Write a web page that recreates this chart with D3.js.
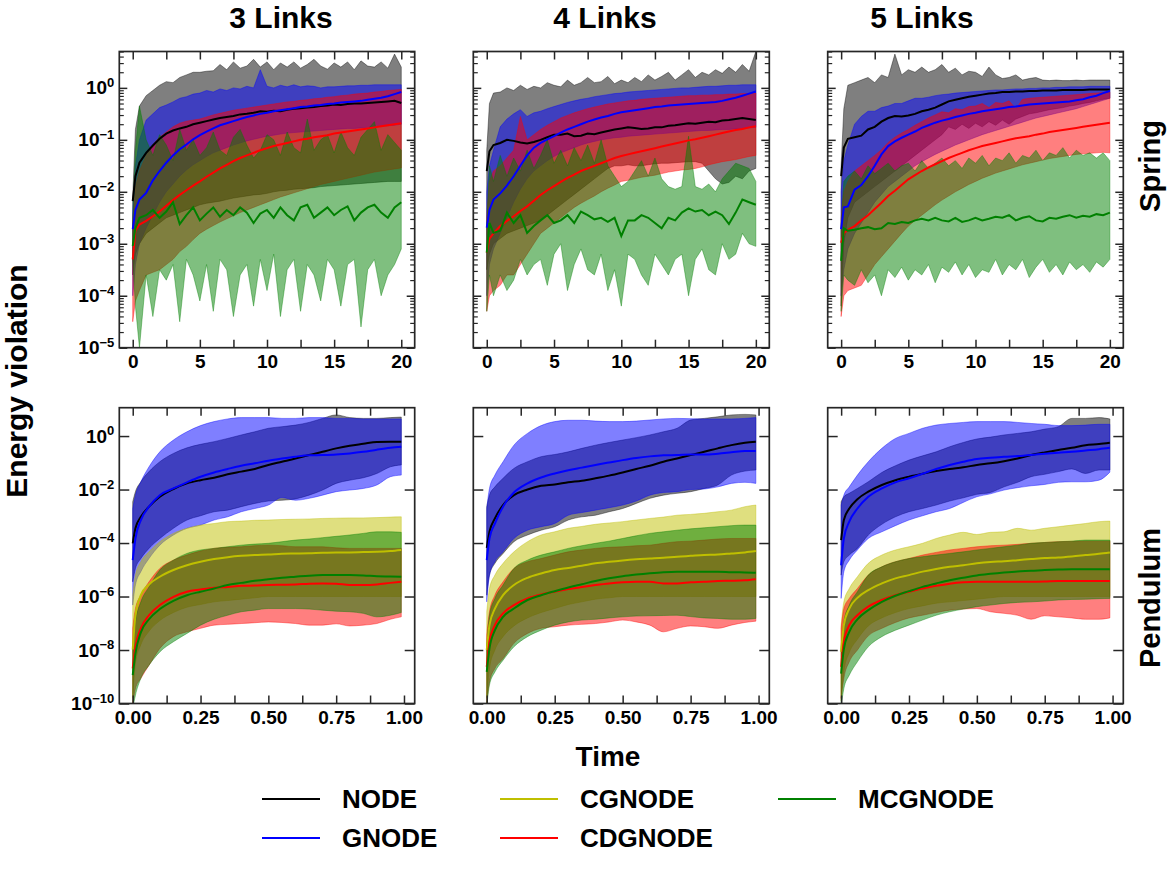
<!DOCTYPE html>
<html><head><meta charset="utf-8">
<script src="https://cdn.jsdelivr.net/npm/d3@7"></script>
<style>
body{margin:0;background:#fff}
text{font-family:"Liberation Sans",Arial,sans-serif;font-weight:bold;fill:#000}
</style>
</head><body>
<svg id="chart" width="1172" height="873"></svg>
<script>
// ---------------- DATA (values are log10 of energy violation) ----------------
const springTime = [0,0.2,0.5,1,1.5,2,2.5,3,3.5,4,4.5,5,5.5,6,6.5,7,7.5,8,8.5,9,9.5,10,10.5,11,11.5,12,12.5,13,13.5,14,14.5,15,15.5,16,16.5,17,17.5,18,18.5,19,19.5,20];
const pendTime = [0,0.01,0.03,0.06,0.1,0.15,0.2,0.25,0.3,0.35,0.4,0.45,0.5,0.55,0.6,0.65,0.7,0.75,0.8,0.85,0.9,0.95,0.99];
const methods = ["NODE","GNODE","CGNODE","CDGNODE","MCGNODE"];
const columnTitles = ["3 Links","4 Links","5 Links"];
const rowTitles = ["Spring","Pendulum"];
const springXTicks = [0,2.5,5,7.5,10,12.5,15,17.5,20];
const springXLabels = [0,5,10,15,20];
const pendXTicks = [0,0.125,0.25,0.375,0.5,0.625,0.75,0.875,1];
const pendXLabels = [0,0.25,0.5,0.75,1];
const springYExp = [-5,-4,-3,-2,-1,0];
const pendYExp = [-10,-8,-6,-4,-2,0];

// Spring, 3 links
const s3_NODE_mean = [-2.18,-1.7,-1.44,-1.25,-1.11,-0.98,-0.88,-0.82,-0.78,-0.75,-0.7,-0.67,-0.64,-0.61,-0.58,-0.56,-0.54,-0.51,-0.5,-0.48,-0.45,-0.46,-0.44,-0.45,-0.42,-0.4,-0.39,-0.38,-0.37,-0.35,-0.34,-0.32,-0.33,-0.31,-0.3,-0.3,-0.29,-0.28,-0.27,-0.26,-0.25,-0.29];
const s3_NODE_hi = [-2.1,-0.8,-0.35,-0.15,-0.05,0.05,0.12,0.1,0.2,0.25,0.3,0.3,0.32,0.33,0.45,0.35,0.5,0.38,0.42,0.55,0.4,0.5,0.35,0.48,0.4,0.5,0.38,0.45,0.55,0.42,0.36,0.48,0.4,0.5,0.35,0.52,0.42,0.4,0.5,0.38,0.65,0.4];
const s3_NODE_lo = [-3.6,-3.2,-3.0,-2.8,-2.7,-2.6,-2.5,-2.45,-2.4,-2.35,-2.3,-2.25,-2.22,-2.2,-2.18,-2.15,-2.12,-2.1,-2.08,-2.06,-2.05,-2.03,-2.0,-1.98,-1.97,-1.95,-1.94,-1.93,-1.92,-1.9,-1.89,-1.88,-1.87,-1.86,-1.85,-1.84,-1.83,-1.82,-1.81,-1.8,-1.8,-1.8];
const s3_GNODE_mean = [-2.72,-2.35,-2.15,-2.02,-1.78,-1.6,-1.44,-1.3,-1.18,-1.09,-0.99,-0.91,-0.84,-0.78,-0.72,-0.68,-0.64,-0.6,-0.56,-0.53,-0.5,-0.48,-0.45,-0.43,-0.41,-0.39,-0.37,-0.36,-0.34,-0.33,-0.31,-0.3,-0.28,-0.27,-0.26,-0.25,-0.23,-0.21,-0.19,-0.16,-0.12,-0.08];
const s3_GNODE_hi = [-2.4,-1.5,-1.0,-0.62,-0.5,-0.38,-0.33,-0.27,-0.2,-0.17,-0.12,-0.1,-0.05,-0.08,-0.02,-0.05,0.0,-0.02,0.03,0.0,0.35,0.03,0.0,0.05,0.02,0.06,0.02,0.04,0.03,0.0,0.02,0.02,0.03,0.04,0.04,0.05,0.05,0.06,0.06,0.06,0.06,0.06];
const s3_GNODE_lo = [-4.0,-3.4,-3.0,-2.7,-2.45,-2.2,-2.0,-1.85,-1.7,-1.58,-1.48,-1.4,-1.32,-1.25,-1.2,-1.15,-1.1,-1.06,-1.02,-0.99,-0.96,-0.93,-0.91,-0.89,-0.87,-0.86,-0.85,-0.84,-0.83,-0.82,-0.81,-0.8,-0.79,-0.78,-0.78,-0.77,-0.76,-0.75,-0.74,-0.73,-0.72,-0.7];
const s3_CDGNODE_mean = [-3.3,-2.75,-2.63,-2.56,-2.47,-2.38,-2.27,-2.16,-2.06,-1.97,-1.88,-1.8,-1.71,-1.63,-1.55,-1.48,-1.41,-1.35,-1.3,-1.25,-1.2,-1.16,-1.12,-1.09,-1.06,-1.03,-1.0,-0.98,-0.95,-0.93,-0.91,-0.88,-0.86,-0.84,-0.82,-0.8,-0.78,-0.76,-0.74,-0.72,-0.7,-0.68];
const s3_CDGNODE_hi = [-2.6,-1.9,-1.6,-1.3,-1.1,-0.95,-0.85,-0.75,-0.68,-0.64,-0.62,-0.6,-0.56,-0.52,-0.49,-0.46,-0.43,-0.41,-0.39,-0.37,-0.35,-0.33,-0.31,-0.29,-0.27,-0.26,-0.24,-0.23,-0.21,-0.2,-0.18,-0.17,-0.15,-0.14,-0.12,-0.11,-0.1,-0.08,-0.07,-0.05,-0.04,-0.03];
const s3_CDGNODE_lo = [-4.5,-4.1,-3.9,-3.6,-3.55,-3.5,-3.4,-3.3,-3.15,-3.05,-2.92,-2.8,-2.72,-2.65,-2.58,-2.52,-2.46,-2.4,-2.35,-2.3,-2.25,-2.2,-2.15,-2.1,-2.06,-2.02,-1.98,-1.94,-1.9,-1.86,-1.83,-1.8,-1.77,-1.74,-1.71,-1.68,-1.65,-1.62,-1.6,-1.58,-1.56,-1.54];
const s3_MCGNODE_mean = [-3.04,-2.7,-2.5,-2.45,-2.35,-2.5,-2.38,-2.2,-2.62,-2.45,-2.3,-2.55,-2.42,-2.3,-2.48,-2.35,-2.45,-2.3,-2.4,-2.6,-2.42,-2.35,-2.5,-2.3,-2.45,-2.55,-2.3,-2.25,-2.5,-2.4,-2.3,-2.45,-2.35,-2.28,-2.55,-2.4,-2.3,-2.25,-2.4,-2.5,-2.3,-2.2];
const s3_MCGNODE_hi = [-2.5,-1.2,-0.35,-1.0,-1.3,-0.9,-1.1,-1.4,-0.8,-1.2,-1.0,-1.3,-1.15,-0.85,-1.2,-1.3,-0.95,-0.8,-1.1,-1.35,-1.2,-0.9,-1.0,-1.3,-0.85,-1.15,-1.25,-0.6,-1.2,-1.0,-0.9,-1.25,-0.85,-1.15,-1.3,-0.95,-0.8,-0.65,-1.2,-0.9,-1.05,-1.2];
const s3_MCGNODE_lo = [-3.3,-4.2,-5.0,-3.6,-4.4,-3.5,-3.7,-3.4,-4.5,-3.3,-3.6,-4.1,-3.4,-4.3,-3.3,-3.5,-4.4,-3.6,-3.4,-4.2,-3.3,-3.9,-3.2,-4.4,-3.5,-3.3,-4.3,-3.4,-3.6,-4.1,-3.3,-3.5,-4.2,-3.4,-3.3,-4.6,-3.5,-3.3,-4.0,-3.6,-3.4,-3.1];

// Spring, 4 links
const s4_NODE_mean = [-1.6,-1.22,-1.1,-1.06,-1.0,-1.02,-1.05,-1.07,-1.04,-1.0,-0.95,-0.9,-0.9,-0.88,-0.93,-0.92,-0.88,-0.89,-0.86,-0.83,-0.8,-0.78,-0.76,-0.77,-0.79,-0.78,-0.76,-0.76,-0.73,-0.72,-0.7,-0.68,-0.69,-0.67,-0.65,-0.66,-0.63,-0.62,-0.6,-0.58,-0.6,-0.62];
const s4_NODE_hi = [-1.2,-0.3,-0.1,-0.08,0.0,-0.05,0.05,-0.03,0.03,0.0,0.1,0.05,0.02,0.15,0.05,0.1,0.2,0.1,0.12,0.22,0.08,0.15,0.1,0.2,0.12,0.25,0.15,0.22,0.3,0.15,0.25,0.35,0.2,0.3,0.25,0.35,0.28,0.4,0.3,0.45,0.32,0.7];
const s4_NODE_lo = [-3.5,-3.2,-3.0,-2.9,-2.8,-2.75,-2.7,-2.65,-2.6,-2.55,-2.45,-2.35,-2.25,-2.15,-2.05,-1.95,-1.85,-1.75,-1.65,-1.55,-1.5,-1.5,-1.48,-1.5,-1.5,-1.48,-1.46,-1.45,-1.45,-1.44,-1.43,-1.42,-1.42,-1.45,-1.6,-1.75,-1.85,-1.82,-1.7,-1.75,-1.6,-1.55];
const s4_GNODE_mean = [-2.69,-2.35,-2.15,-2.03,-1.88,-1.7,-1.5,-1.3,-1.15,-1.06,-0.99,-0.93,-0.86,-0.8,-0.75,-0.7,-0.65,-0.61,-0.57,-0.54,-0.5,-0.47,-0.45,-0.43,-0.41,-0.39,-0.37,-0.36,-0.34,-0.33,-0.32,-0.31,-0.3,-0.29,-0.28,-0.27,-0.25,-0.22,-0.19,-0.15,-0.11,-0.07];
const s4_GNODE_hi = [-2.0,-1.5,-1.2,-0.75,-0.6,-0.5,-0.42,-0.55,-0.48,-0.45,-0.4,-0.36,-0.32,-0.28,-0.25,-0.22,-0.2,-0.17,-0.15,-0.13,-0.11,-0.1,-0.08,-0.07,-0.06,-0.05,-0.04,-0.03,-0.02,-0.01,0.0,0.0,0.01,0.02,0.03,0.03,0.04,0.05,0.05,0.06,0.06,0.06];
const s4_GNODE_lo = [-4.0,-3.4,-3.1,-2.8,-2.5,-2.2,-1.95,-1.75,-1.6,-1.5,-1.4,-1.32,-1.25,-1.2,-1.15,-1.1,-1.06,-1.03,-1.0,-0.98,-0.96,-0.95,-0.93,-0.92,-0.91,-0.9,-0.89,-0.88,-0.87,-0.86,-0.85,-0.84,-0.83,-0.82,-0.82,-0.81,-0.8,-0.8,-0.79,-0.78,-0.77,-0.76];
const s4_CDGNODE_mean = [-3.17,-2.9,-2.8,-2.66,-2.56,-2.47,-2.37,-2.28,-2.17,-2.06,-1.97,-1.89,-1.81,-1.73,-1.67,-1.6,-1.55,-1.5,-1.45,-1.4,-1.35,-1.31,-1.28,-1.25,-1.22,-1.19,-1.16,-1.13,-1.1,-1.07,-1.04,-1.01,-0.99,-0.96,-0.93,-0.9,-0.87,-0.84,-0.81,-0.79,-0.76,-0.74];
const s4_CDGNODE_hi = [-2.5,-1.8,-1.6,-1.5,-1.35,-1.2,-0.55,-1.0,-0.9,-0.8,-0.72,-0.65,-0.58,-0.53,-0.48,-0.44,-0.4,-0.37,-0.34,-0.31,-0.29,-0.27,-0.25,-0.24,-0.22,-0.21,-0.2,-0.19,-0.18,-0.17,-0.16,-0.15,-0.15,-0.14,-0.14,-0.13,-0.13,-0.12,-0.12,-0.11,-0.11,-0.1];
const s4_CDGNODE_lo = [-4.3,-4.0,-3.9,-3.8,-3.6,-3.6,-3.4,-3.2,-3.0,-2.8,-2.7,-2.6,-2.5,-2.4,-2.3,-2.22,-2.15,-2.08,-2.0,-1.93,-1.87,-1.8,-1.78,-1.75,-1.72,-1.7,-1.68,-1.65,-1.62,-1.6,-1.58,-1.57,-1.55,-1.52,-1.48,-1.45,-1.42,-1.4,-1.38,-1.35,-1.32,-1.3];
const s4_MCGNODE_mean = [-3.17,-2.6,-2.79,-2.75,-2.4,-2.6,-2.45,-2.79,-2.66,-2.55,-2.45,-2.6,-2.55,-2.45,-2.6,-2.38,-2.45,-2.53,-2.5,-2.58,-2.5,-2.85,-2.55,-2.55,-2.45,-2.5,-2.6,-2.7,-2.5,-2.55,-2.4,-2.32,-2.38,-2.35,-2.45,-2.38,-2.45,-2.62,-2.4,-2.15,-2.2,-2.25];
const s4_MCGNODE_hi = [-2.6,-1.5,-1.8,-1.3,-1.7,-1.35,-1.6,-1.2,-1.55,-1.3,-1.0,-1.45,-1.2,-1.5,-1.15,-1.4,-1.1,-1.45,-1.0,-1.5,-1.7,-1.9,-1.8,-1.6,-1.4,-1.7,-1.35,-1.75,-1.9,-1.95,-1.9,-0.93,-1.9,-1.95,-1.85,-2.0,-1.75,-1.6,-1.45,-1.5,-1.55,-1.8];
const s4_MCGNODE_lo = [-4.3,-3.6,-4.0,-3.6,-3.9,-3.7,-3.3,-3.6,-3.4,-3.3,-3.8,-3.2,-3.0,-3.9,-3.4,-3.1,-3.5,-3.6,-3.2,-3.9,-3.5,-4.2,-3.2,-3.3,-3.6,-3.8,-3.2,-3.4,-3.6,-3.3,-3.2,-4.0,-3.3,-3.1,-3.5,-3.6,-3.0,-3.3,-3.2,-2.8,-3.0,-3.05];

// Spring, 5 links
const s5_NODE_mean = [-1.7,-1.15,-0.98,-0.95,-0.92,-0.8,-0.75,-0.65,-0.58,-0.54,-0.55,-0.53,-0.5,-0.45,-0.42,-0.38,-0.32,-0.26,-0.23,-0.2,-0.17,-0.15,-0.13,-0.11,-0.1,-0.08,-0.08,-0.07,-0.07,-0.06,-0.06,-0.05,-0.05,-0.05,-0.04,-0.04,-0.04,-0.04,-0.03,-0.03,-0.03,-0.03];
const s5_NODE_hi = [-1.5,-0.4,0.05,0.1,0.15,0.2,0.1,0.25,0.2,0.65,0.25,0.35,0.3,0.4,0.3,0.35,0.45,0.3,0.38,0.25,0.32,0.3,0.22,0.4,0.25,0.18,0.2,0.25,0.15,0.18,0.2,0.15,0.14,0.15,0.14,0.14,0.15,0.14,0.15,0.15,0.15,0.15];
const s5_NODE_lo = [-4.2,-3.0,-2.5,-2.2,-2.1,-2.0,-1.9,-1.8,-1.7,-1.6,-1.5,-1.4,-1.3,-1.2,-1.1,-1.0,-0.9,-0.75,-0.8,-0.7,-0.78,-0.68,-0.75,-0.65,-0.72,-0.62,-0.7,-0.6,-0.55,-0.5,-0.48,-0.45,-0.42,-0.4,-0.38,-0.35,-0.33,-0.3,-0.28,-0.25,-0.22,-0.2];
const s5_GNODE_mean = [-2.72,-2.3,-2.28,-1.96,-1.87,-1.7,-1.5,-1.28,-1.12,-1.03,-0.96,-0.9,-0.84,-0.77,-0.72,-0.67,-0.63,-0.6,-0.56,-0.53,-0.5,-0.48,-0.45,-0.43,-0.41,-0.39,-0.37,-0.36,-0.34,-0.32,-0.31,-0.3,-0.29,-0.28,-0.27,-0.26,-0.24,-0.22,-0.18,-0.15,-0.1,-0.06];
const s5_GNODE_hi = [-2.0,-1.4,-1.1,-0.7,-0.55,-0.45,-0.45,-0.38,-0.35,-0.3,-0.3,-0.25,-0.2,-0.2,-0.18,-0.15,-0.13,-0.12,-0.1,-0.09,-0.08,-0.07,-0.06,-0.05,-0.04,-0.04,-0.03,-0.02,-0.02,-0.01,-0.01,0.0,0.0,0.01,0.01,0.02,0.02,0.02,0.03,0.03,0.03,0.03];
const s5_GNODE_lo = [-4.0,-3.5,-3.1,-2.8,-2.6,-2.4,-2.2,-2.05,-1.9,-1.8,-1.7,-1.6,-1.5,-1.42,-1.35,-1.28,-1.22,-1.16,-1.1,-1.05,-1.0,-0.95,-0.9,-0.86,-0.82,-0.78,-0.74,-0.7,-0.66,-0.62,-0.58,-0.55,-0.52,-0.49,-0.46,-0.43,-0.4,-0.36,-0.32,-0.28,-0.24,-0.2];
const s5_CDGNODE_mean = [-2.98,-2.8,-2.73,-2.66,-2.55,-2.45,-2.33,-2.21,-2.08,-1.98,-1.87,-1.76,-1.68,-1.6,-1.53,-1.47,-1.41,-1.35,-1.3,-1.25,-1.2,-1.16,-1.12,-1.09,-1.06,-1.03,-1.0,-0.97,-0.95,-0.93,-0.9,-0.88,-0.85,-0.83,-0.81,-0.79,-0.77,-0.75,-0.73,-0.71,-0.69,-0.67];
const s5_CDGNODE_hi = [-2.5,-2.0,-1.8,-1.6,-1.5,-1.4,-1.3,-1.19,-1.05,-0.95,-0.87,-0.8,-0.72,-0.65,-0.58,-0.52,-0.46,-0.48,-0.4,-0.42,-0.36,-0.35,-0.3,-0.38,-0.28,-0.3,-0.25,-0.4,-0.22,-0.2,-0.19,-0.18,-0.17,-0.16,-0.15,-0.14,-0.13,-0.12,-0.11,-0.1,-0.09,-0.08];
const s5_CDGNODE_lo = [-4.4,-4.0,-3.9,-3.85,-3.8,-3.6,-3.4,-3.25,-3.1,-2.95,-2.8,-2.66,-2.55,-2.45,-2.35,-2.25,-2.16,-2.08,-2.0,-1.93,-1.86,-1.8,-1.74,-1.69,-1.64,-1.6,-1.56,-1.52,-1.48,-1.45,-1.42,-1.39,-1.36,-1.34,-1.32,-1.3,-1.28,-1.27,-1.26,-1.25,-1.24,-1.25];
const s5_MCGNODE_mean = [-3.33,-2.7,-2.75,-2.73,-2.7,-2.68,-2.72,-2.7,-2.6,-2.62,-2.58,-2.6,-2.55,-2.52,-2.55,-2.5,-2.55,-2.57,-2.5,-2.58,-2.55,-2.5,-2.55,-2.52,-2.48,-2.5,-2.45,-2.55,-2.5,-2.47,-2.55,-2.57,-2.5,-2.52,-2.48,-2.45,-2.5,-2.46,-2.48,-2.43,-2.45,-2.4];
const s5_MCGNODE_hi = [-2.6,-1.8,-1.7,-1.6,-1.75,-1.5,-1.65,-1.55,-1.45,-1.6,-1.5,-1.45,-1.6,-1.4,-1.55,-1.45,-1.35,-1.5,-1.4,-1.55,-1.35,-1.45,-1.3,-1.5,-1.35,-1.4,-1.25,-1.45,-1.3,-1.35,-1.2,-1.4,-1.25,-1.3,-1.15,-1.35,-1.2,-1.3,-1.25,-1.35,-1.25,-1.4];
const s5_MCGNODE_lo = [-4.3,-3.6,-3.7,-3.8,-3.5,-3.75,-3.6,-4.0,-3.5,-3.65,-3.45,-3.7,-3.5,-3.6,-3.4,-3.75,-3.45,-3.55,-3.35,-3.6,-3.4,-3.65,-3.5,-3.55,-3.3,-3.6,-3.4,-3.5,-3.3,-3.65,-3.45,-3.3,-3.55,-3.4,-3.6,-3.35,-3.5,-3.4,-3.55,-3.35,-3.45,-3.3];

// Pendulum, 3 links
const p3_NODE_mean = [-4.01,-3.45,-3.02,-2.64,-2.27,-1.98,-1.77,-1.65,-1.56,-1.43,-1.33,-1.23,-1.08,-0.96,-0.84,-0.71,-0.59,-0.46,-0.36,-0.29,-0.22,-0.21,-0.21];
const p3_NODE_hi = [-2.46,-2.08,-1.71,-1.33,-0.96,-0.65,-0.44,-0.31,-0.21,-0.09,0.04,0.16,0.29,0.35,0.41,0.51,0.66,0.79,0.69,0.66,0.66,0.69,0.71];
const p3_NODE_lo = [-5.45,-4.95,-4.58,-4.2,-3.83,-3.45,-3.14,-2.98,-2.83,-2.77,-2.64,-2.52,-2.43,-2.4,-2.35,-2.21,-2.02,-1.77,-1.65,-1.56,-1.4,-1.15,-1.08];
const p3_GNODE_mean = [-4.64,-3.83,-3.14,-2.64,-2.21,-1.96,-1.73,-1.52,-1.36,-1.23,-1.11,-1.02,-0.92,-0.84,-0.77,-0.72,-0.71,-0.69,-0.65,-0.59,-0.51,-0.44,-0.4];
const p3_GNODE_hi = [-2.71,-2.21,-1.71,-1.15,-0.59,-0.15,0.16,0.39,0.54,0.64,0.69,0.69,0.69,0.66,0.66,0.69,0.69,0.66,0.66,0.64,0.64,0.64,0.64];
const p3_GNODE_lo = [-6.32,-5.57,-5.07,-4.58,-4.08,-3.7,-3.45,-3.33,-3.14,-3.02,-2.83,-2.71,-2.58,-2.3,-2.4,-2.33,-2.21,-2.08,-2.02,-1.96,-1.83,-1.52,-1.46];
const p3_CGNODE_mean = [-7.98,-6.7,-5.95,-5.55,-5.26,-5.01,-4.83,-4.7,-4.6,-4.53,-4.48,-4.45,-4.43,-4.4,-4.39,-4.38,-4.36,-4.35,-4.35,-4.34,-4.33,-4.3,-4.26];
const p3_CGNODE_hi = [-5.95,-5.2,-4.7,-4.33,-3.95,-3.64,-3.45,-3.33,-3.27,-3.2,-3.18,-3.15,-3.14,-3.12,-3.11,-3.1,-3.08,-3.07,-3.06,-3.06,-3.05,-3.03,-3.02];
const p3_CGNODE_lo = [-9.8,-8.5,-7.8,-7.3,-6.9,-6.6,-6.4,-6.3,-6.2,-6.15,-6.1,-6.05,-6.0,-6.0,-6.0,-6.0,-6.0,-6.0,-6.0,-6.0,-6.0,-6.0,-6.0];
const p3_CDGNODE_mean = [-8.69,-7.88,-7.19,-6.7,-6.32,-6.01,-5.82,-5.74,-5.67,-5.64,-5.6,-5.59,-5.57,-5.56,-5.55,-5.52,-5.51,-5.52,-5.57,-5.57,-5.55,-5.49,-5.45];
const p3_CDGNODE_hi = [-7.19,-6.45,-5.95,-5.45,-4.95,-4.64,-4.45,-4.3,-4.2,-4.16,-4.14,-4.1,-4.08,-4.1,-4.14,-4.14,-4.14,-4.18,-4.2,-4.2,-4.2,-4.2,-4.2];
const p3_CDGNODE_lo = [-10.06,-9.44,-9.06,-8.57,-7.94,-7.5,-7.32,-7.19,-7.07,-7.04,-7.01,-6.98,-6.95,-6.97,-7.01,-7.07,-7.07,-7.02,-7.1,-7.07,-7.01,-6.85,-6.76];
const p3_MCGNODE_mean = [-8.94,-8.13,-7.34,-6.85,-6.47,-6.16,-5.95,-5.82,-5.7,-5.57,-5.49,-5.41,-5.35,-5.3,-5.26,-5.22,-5.2,-5.2,-5.2,-5.21,-5.24,-5.25,-5.26];
const p3_MCGNODE_hi = [-7.94,-6.95,-6.2,-5.64,-5.01,-4.64,-4.39,-4.26,-4.2,-4.14,-4.08,-4.04,-4.01,-3.95,-3.89,-3.85,-3.8,-3.75,-3.7,-3.64,-3.58,-3.58,-3.6];
const p3_MCGNODE_lo = [-10.2,-9.69,-9.06,-8.57,-8.07,-7.69,-7.38,-7.07,-6.85,-6.7,-6.57,-6.51,-6.45,-6.45,-6.45,-6.47,-6.51,-6.55,-6.57,-6.63,-6.76,-6.7,-6.6];

// Pendulum, 4 links
const p4_NODE_mean = [-4.18,-3.58,-3.08,-2.58,-2.21,-2.0,-1.86,-1.81,-1.73,-1.67,-1.58,-1.48,-1.36,-1.23,-1.11,-0.96,-0.84,-0.71,-0.59,-0.46,-0.34,-0.25,-0.21];
const p4_NODE_hi = [-2.64,-2.21,-1.9,-1.58,-1.21,-0.96,-0.77,-0.69,-0.59,-0.46,-0.34,-0.24,-0.15,-0.06,0.04,0.16,0.29,0.6,0.66,0.72,0.79,0.81,0.79];
const p4_NODE_lo = [-5.95,-5.2,-4.76,-4.39,-3.95,-3.7,-3.52,-3.39,-3.14,-3.02,-2.96,-2.83,-2.71,-2.52,-2.33,-2.21,-2.14,-2.08,-1.96,-1.83,-1.46,-1.31,-1.27];
const p4_GNODE_mean = [-4.64,-3.83,-3.27,-2.64,-2.11,-1.77,-1.55,-1.4,-1.28,-1.18,-1.08,-0.99,-0.9,-0.82,-0.76,-0.72,-0.71,-0.69,-0.69,-0.66,-0.61,-0.56,-0.56];
const p4_GNODE_hi = [-2.71,-1.96,-1.46,-0.96,-0.34,0.1,0.39,0.54,0.59,0.59,0.56,0.54,0.54,0.56,0.6,0.64,0.66,0.65,0.64,0.64,0.64,0.66,0.69];
const p4_GNODE_lo = [-6.2,-5.2,-4.7,-4.33,-3.83,-3.52,-3.39,-3.27,-2.96,-2.86,-2.77,-2.68,-2.58,-2.43,-2.21,-2.11,-2.08,-2.0,-1.98,-1.9,-1.77,-1.73,-1.77];
const p4_CGNODE_mean = [-8.0,-7.07,-6.45,-5.95,-5.57,-5.3,-5.14,-5.01,-4.93,-4.85,-4.76,-4.7,-4.65,-4.61,-4.58,-4.55,-4.51,-4.48,-4.45,-4.43,-4.39,-4.35,-4.3];
const p4_CGNODE_hi = [-6.57,-5.7,-5.2,-4.76,-4.33,-3.95,-3.7,-3.58,-3.45,-3.38,-3.3,-3.25,-3.2,-3.14,-3.08,-3.03,-2.96,-2.93,-2.89,-2.83,-2.77,-2.64,-2.58];
const p4_CGNODE_lo = [-9.8,-8.7,-8.0,-7.5,-7.1,-6.8,-6.6,-6.45,-6.3,-6.2,-6.1,-6.05,-6.0,-6.0,-6.0,-6.0,-6.0,-6.0,-6.0,-6.0,-6.0,-6.0,-6.0];
const p4_CDGNODE_mean = [-8.63,-7.69,-7.07,-6.63,-6.32,-6.07,-5.92,-5.82,-5.72,-5.64,-5.57,-5.51,-5.47,-5.45,-5.45,-5.51,-5.51,-5.47,-5.45,-5.42,-5.41,-5.39,-5.35];
const p4_CDGNODE_hi = [-7.44,-6.57,-5.95,-5.45,-4.95,-4.7,-4.58,-4.45,-4.33,-4.26,-4.2,-4.16,-4.14,-4.1,-4.08,-4.01,-3.95,-3.93,-3.89,-3.85,-3.83,-3.83,-3.83];
const p4_CDGNODE_lo = [-10.0,-9.19,-8.69,-8.32,-7.75,-7.38,-7.19,-7.13,-7.07,-7.04,-7.01,-6.95,-6.88,-6.95,-7.07,-7.32,-7.19,-7.1,-7.13,-7.19,-7.07,-6.97,-6.92];
const p4_MCGNODE_mean = [-8.82,-7.94,-7.26,-6.76,-6.45,-6.13,-5.95,-5.8,-5.66,-5.54,-5.42,-5.32,-5.24,-5.18,-5.13,-5.09,-5.07,-5.07,-5.07,-5.07,-5.09,-5.1,-5.11];
const p4_MCGNODE_hi = [-7.82,-6.7,-6.07,-5.57,-4.95,-4.64,-4.45,-4.33,-4.2,-4.1,-4.01,-3.93,-3.83,-3.73,-3.64,-3.58,-3.52,-3.47,-3.43,-3.39,-3.35,-3.33,-3.33];
const p4_MCGNODE_lo = [-10.12,-9.31,-8.82,-8.38,-7.88,-7.5,-7.26,-7.07,-6.95,-6.88,-6.85,-6.8,-6.76,-6.73,-6.72,-6.71,-6.7,-6.75,-6.8,-6.82,-6.85,-6.85,-6.82];

// Pendulum, 5 links
const p5_NODE_mean = [-3.89,-3.14,-2.71,-2.36,-2.08,-1.83,-1.65,-1.52,-1.41,-1.31,-1.23,-1.17,-1.08,-1.02,-0.94,-0.84,-0.71,-0.61,-0.52,-0.44,-0.34,-0.3,-0.25];
const p5_NODE_hi = [-2.46,-2.27,-2.14,-1.96,-1.71,-1.36,-1.11,-0.9,-0.74,-0.59,-0.4,-0.24,-0.11,-0.04,0.04,0.1,0.16,0.26,0.35,0.66,0.66,0.69,0.64];
const p5_NODE_lo = [-5.2,-4.7,-4.45,-4.2,-3.7,-3.3,-3.02,-2.83,-2.71,-2.58,-2.43,-2.31,-2.18,-2.11,-1.9,-1.73,-1.52,-1.43,-1.33,-1.23,-1.4,-1.27,-1.27];
const p5_GNODE_mean = [-4.83,-3.83,-3.2,-2.71,-2.27,-1.96,-1.73,-1.58,-1.41,-1.23,-1.08,-0.96,-0.86,-0.81,-0.77,-0.75,-0.71,-0.66,-0.62,-0.59,-0.54,-0.49,-0.44];
const p5_GNODE_hi = [-2.58,-2.21,-1.9,-1.46,-0.96,-0.46,-0.09,0.1,0.29,0.41,0.47,0.51,0.54,0.54,0.54,0.51,0.47,0.44,0.39,0.39,0.41,0.44,0.44];
const p5_GNODE_lo = [-6.07,-5.07,-4.64,-4.26,-3.83,-3.58,-3.35,-3.14,-2.98,-2.83,-2.71,-2.48,-2.27,-2.16,-2.02,-1.93,-1.86,-1.81,-1.73,-1.71,-1.71,-1.65,-1.35];
const p5_CGNODE_mean = [-8.07,-7.07,-6.45,-6.05,-5.76,-5.51,-5.32,-5.2,-5.07,-4.97,-4.89,-4.83,-4.76,-4.71,-4.68,-4.64,-4.6,-4.56,-4.54,-4.5,-4.45,-4.4,-4.35];
const p5_CGNODE_hi = [-7.07,-6.2,-5.7,-5.26,-4.76,-4.45,-4.26,-4.14,-4.01,-3.83,-3.7,-3.6,-3.68,-3.6,-3.58,-3.45,-3.52,-3.45,-3.39,-3.33,-3.27,-3.2,-3.18];
const p5_CGNODE_lo = [-9.9,-8.8,-8.1,-7.6,-7.1,-6.8,-6.6,-6.45,-6.35,-6.25,-6.2,-6.15,-6.1,-6.05,-6.0,-6.0,-6.0,-6.0,-6.0,-6.0,-6.0,-6.0,-6.0];
const p5_CDGNODE_mean = [-8.63,-7.69,-7.07,-6.7,-6.38,-6.13,-5.95,-5.82,-5.7,-5.6,-5.52,-5.47,-5.45,-5.45,-5.45,-5.45,-5.45,-5.44,-5.42,-5.42,-5.42,-5.42,-5.42];
const p5_CDGNODE_hi = [-7.19,-6.45,-6.07,-5.7,-5.2,-4.89,-4.7,-4.58,-4.45,-4.35,-4.26,-4.2,-4.14,-4.1,-4.08,-4.05,-4.01,-3.98,-3.95,-3.94,-3.93,-3.93,-3.93];
const p5_CDGNODE_lo = [-9.81,-9.06,-8.44,-8.0,-7.47,-7.19,-6.97,-6.8,-6.7,-6.6,-6.51,-6.47,-6.45,-6.57,-6.63,-6.7,-6.85,-6.72,-6.76,-6.8,-6.85,-6.85,-6.8];
const p5_MCGNODE_mean = [-8.88,-7.97,-7.32,-6.85,-6.51,-6.2,-5.97,-5.8,-5.64,-5.51,-5.39,-5.3,-5.21,-5.15,-5.1,-5.06,-5.04,-5.01,-4.99,-4.98,-4.98,-4.98,-4.98];
const p5_MCGNODE_hi = [-7.94,-6.95,-6.32,-5.82,-5.2,-4.89,-4.7,-4.58,-4.51,-4.45,-4.39,-4.33,-4.26,-4.2,-4.14,-4.08,-4.01,-3.98,-3.95,-3.93,-3.89,-3.89,-3.89];
const p5_MCGNODE_lo = [-10.12,-9.44,-8.94,-8.44,-7.88,-7.5,-7.26,-7.07,-6.88,-6.7,-6.57,-6.47,-6.38,-6.32,-6.26,-6.22,-6.2,-6.17,-6.13,-6.11,-6.1,-6.08,-6.07];

// ---------------- STYLE / LAYOUT ----------------
const colors = {NODE:"#000000",GNODE:"#0000ff",CGNODE:"#bfbf00",CDGNODE:"#ff0000",MCGNODE:"#008000"};
const colX = [[119.3,414.7],[473.3,769.3],[827.7,1123.3]];
const rowCfg = [
  {top:51.5,bottom:347.7,xDomain:[-1,21],yDomain:[1e-5,Math.pow(10,0.7)],time:springTime,
   xTicks:springXTicks,xLabels:springXLabels,xFmt:d3.format("d"),yExp:springYExp,minor:true,yLen:8,curve:d3.curveLinear},
  {top:407.7,bottom:703.5,xDomain:[-0.0495,1.0395],yDomain:[1e-10,Math.pow(10,1.06)],time:pendTime,
   xTicks:pendXTicks,xLabels:pendXLabels,xFmt:d3.format(".2f"),yExp:pendYExp,minor:false,yLen:10,curve:d3.curveMonotoneX}
];
function S(mean,lo,hi){return {mean,lo,hi};}
const panels = [
  {row:0,col:0,series:{NODE:S(s3_NODE_mean,s3_NODE_lo,s3_NODE_hi),GNODE:S(s3_GNODE_mean,s3_GNODE_lo,s3_GNODE_hi),CDGNODE:S(s3_CDGNODE_mean,s3_CDGNODE_lo,s3_CDGNODE_hi),MCGNODE:S(s3_MCGNODE_mean,s3_MCGNODE_lo,s3_MCGNODE_hi)}},
  {row:0,col:1,series:{NODE:S(s4_NODE_mean,s4_NODE_lo,s4_NODE_hi),GNODE:S(s4_GNODE_mean,s4_GNODE_lo,s4_GNODE_hi),CDGNODE:S(s4_CDGNODE_mean,s4_CDGNODE_lo,s4_CDGNODE_hi),MCGNODE:S(s4_MCGNODE_mean,s4_MCGNODE_lo,s4_MCGNODE_hi)}},
  {row:0,col:2,series:{NODE:S(s5_NODE_mean,s5_NODE_lo,s5_NODE_hi),GNODE:S(s5_GNODE_mean,s5_GNODE_lo,s5_GNODE_hi),CDGNODE:S(s5_CDGNODE_mean,s5_CDGNODE_lo,s5_CDGNODE_hi),MCGNODE:S(s5_MCGNODE_mean,s5_MCGNODE_lo,s5_MCGNODE_hi)}},
  {row:1,col:0,series:{NODE:S(p3_NODE_mean,p3_NODE_lo,p3_NODE_hi),GNODE:S(p3_GNODE_mean,p3_GNODE_lo,p3_GNODE_hi),CGNODE:S(p3_CGNODE_mean,p3_CGNODE_lo,p3_CGNODE_hi),CDGNODE:S(p3_CDGNODE_mean,p3_CDGNODE_lo,p3_CDGNODE_hi),MCGNODE:S(p3_MCGNODE_mean,p3_MCGNODE_lo,p3_MCGNODE_hi)}},
  {row:1,col:1,series:{NODE:S(p4_NODE_mean,p4_NODE_lo,p4_NODE_hi),GNODE:S(p4_GNODE_mean,p4_GNODE_lo,p4_GNODE_hi),CGNODE:S(p4_CGNODE_mean,p4_CGNODE_lo,p4_CGNODE_hi),CDGNODE:S(p4_CDGNODE_mean,p4_CDGNODE_lo,p4_CDGNODE_hi),MCGNODE:S(p4_MCGNODE_mean,p4_MCGNODE_lo,p4_MCGNODE_hi)}},
  {row:1,col:2,series:{NODE:S(p5_NODE_mean,p5_NODE_lo,p5_NODE_hi),GNODE:S(p5_GNODE_mean,p5_GNODE_lo,p5_GNODE_hi),CGNODE:S(p5_CGNODE_mean,p5_CGNODE_lo,p5_CGNODE_hi),CDGNODE:S(p5_CDGNODE_mean,p5_CDGNODE_lo,p5_CDGNODE_hi),MCGNODE:S(p5_MCGNODE_mean,p5_MCGNODE_lo,p5_MCGNODE_hi)}}
];

const svg = d3.select("#chart");
const defs = svg.append("defs");
const AX = "#262626";
const TICK_FS = 19, SUP_FS = 13;

function styleAxis(g){
  g.attr("font-size",null).attr("font-family",null);
  g.select(".domain").remove();
  g.selectAll(".tick line").attr("stroke",AX).attr("stroke-width",1.5);
}
function supLabels(g){
  g.selectAll(".tick text").each(function(d){
    const e = Math.round(Math.log10(d));
    const t = d3.select(this); t.text(null);
    t.append("tspan").text("10");
    t.append("tspan").attr("dy","-0.55em").attr("font-size",SUP_FS).text(e<0?"\u2212"+(-e):String(e));
  });
}

panels.forEach(p=>{
  const R = rowCfg[p.row]; const [x0,x1] = colX[p.col];
  const x = d3.scaleLinear().domain(R.xDomain).range([x0,x1]);
  const y = d3.scaleLog().domain(R.yDomain).range([R.bottom,R.top]);
  const id = "clip"+p.row+p.col;
  defs.append("clipPath").attr("id",id).append("rect").attr("x",x0).attr("y",R.top).attr("width",x1-x0).attr("height",R.bottom-R.top);
  const g = svg.append("g");
  const dg = g.append("g").attr("clip-path",`url(#${id})`);
  methods.forEach(m=>{
    const s = p.series[m]; if(!s) return;
    const pts = R.time.map((t,i)=>({t,lo:Math.pow(10,s.lo[i]),hi:Math.pow(10,s.hi[i])}));
    const area = d3.area().x(d=>x(d.t)).y0(d=>y(d.lo)).y1(d=>y(d.hi)).curve(R.curve);
    dg.append("path").attr("d",area(pts)).attr("fill",colors[m]).attr("fill-opacity",0.5)
      .attr("stroke",colors[m]).attr("stroke-opacity",0.5).attr("stroke-width",0.8);
  });
  methods.forEach(m=>{
    const s = p.series[m]; if(!s) return;
    const pts = R.time.map((t,i)=>({t,v:Math.pow(10,s.mean[i])}));
    const line = d3.line().x(d=>x(d.t)).y(d=>y(d.v)).curve(R.curve);
    dg.append("path").attr("d",line(pts)).attr("fill","none").attr("stroke",colors[m]).attr("stroke-width",2);
  });

  const xb = g.append("g").attr("transform",`translate(0,${R.bottom})`)
    .call(d3.axisBottom(x).tickValues(R.xTicks).tickSize(-8).tickPadding(7)
      .tickFormat(d=>R.xLabels.some(v=>Math.abs(v-d)<1e-9)?R.xFmt(d):""));
  styleAxis(xb); xb.selectAll("text").attr("font-size",TICK_FS).attr("fill","#000");
  const xt = g.append("g").attr("transform",`translate(0,${R.top})`)
    .call(d3.axisTop(x).tickValues(R.xTicks).tickSize(-8).tickFormat(""));
  styleAxis(xt);

  const majors = R.yExp.map(e=>Math.pow(10,e));
  const yl = g.append("g").attr("transform",`translate(${x0},0)`)
    .call(d3.axisLeft(y).tickValues(majors).tickSize(-R.yLen).tickPadding(5).tickFormat(()=>"x"));
  styleAxis(yl);
  if(p.col===0){ supLabels(yl); yl.selectAll(".tick text").attr("font-size",TICK_FS).attr("fill","#000"); }
  else yl.selectAll("text").remove();
  const yr = g.append("g").attr("transform",`translate(${x1},0)`)
    .call(d3.axisRight(y).tickValues(majors).tickSize(-R.yLen).tickFormat(""));
  styleAxis(yr);
  if(R.minor){
    const minors = [];
    for(let e=R.yExp[0]; e<=R.yExp[R.yExp.length-1]; e++) for(let k=2;k<=9;k++){const v=k*Math.pow(10,e); if(v<=R.yDomain[1]) minors.push(v);}
    const ml = g.append("g").attr("transform",`translate(${x0},0)`).call(d3.axisLeft(y).tickValues(minors).tickSize(-4.5).tickFormat(""));
    styleAxis(ml); ml.selectAll(".tick line").attr("stroke-width",1.2);
    const mr = g.append("g").attr("transform",`translate(${x1},0)`).call(d3.axisRight(y).tickValues(minors).tickSize(-4.5).tickFormat(""));
    styleAxis(mr); mr.selectAll(".tick line").attr("stroke-width",1.2);
  }
  g.append("rect").attr("x",x0).attr("y",R.top).attr("width",x1-x0).attr("height",R.bottom-R.top)
    .attr("fill","none").attr("stroke",AX).attr("stroke-width",1.7);
});

// titles & labels
const titleX = [281,605,922];
columnTitles.forEach((t,i)=>svg.append("text").attr("x",titleX[i]).attr("y",28).attr("text-anchor","middle").attr("font-size",30).text(t));
const rowLabelY = [166,598];
rowTitles.forEach((t,i)=>svg.append("text").attr("transform",`translate(1160,${rowLabelY[i]}) rotate(-90)`).attr("text-anchor","middle").attr("font-size",29).text(t));
svg.append("text").attr("transform","translate(27,381) rotate(-90)").attr("text-anchor","middle").attr("font-size",30).text("Energy violation");
svg.append("text").attr("x",608).attr("y",766).attr("text-anchor","middle").attr("font-size",28).text("Time");

// legend (3 columns, column-major like matplotlib)
const legX = [262,500,778];
const legY = [799,838];
methods.forEach((m,i)=>{
  const c = Math.floor(i/2), r = i%2;
  const lg = svg.append("g");
  lg.append("line").attr("x1",legX[c]).attr("x2",legX[c]+58).attr("y1",legY[r]).attr("y2",legY[r]).attr("stroke",colors[m]).attr("stroke-width",2);
  lg.append("text").attr("x",legX[c]+80).attr("y",legY[r]).attr("dy","0.36em").attr("font-size",26).text(m);
});
</script>
</body></html>
